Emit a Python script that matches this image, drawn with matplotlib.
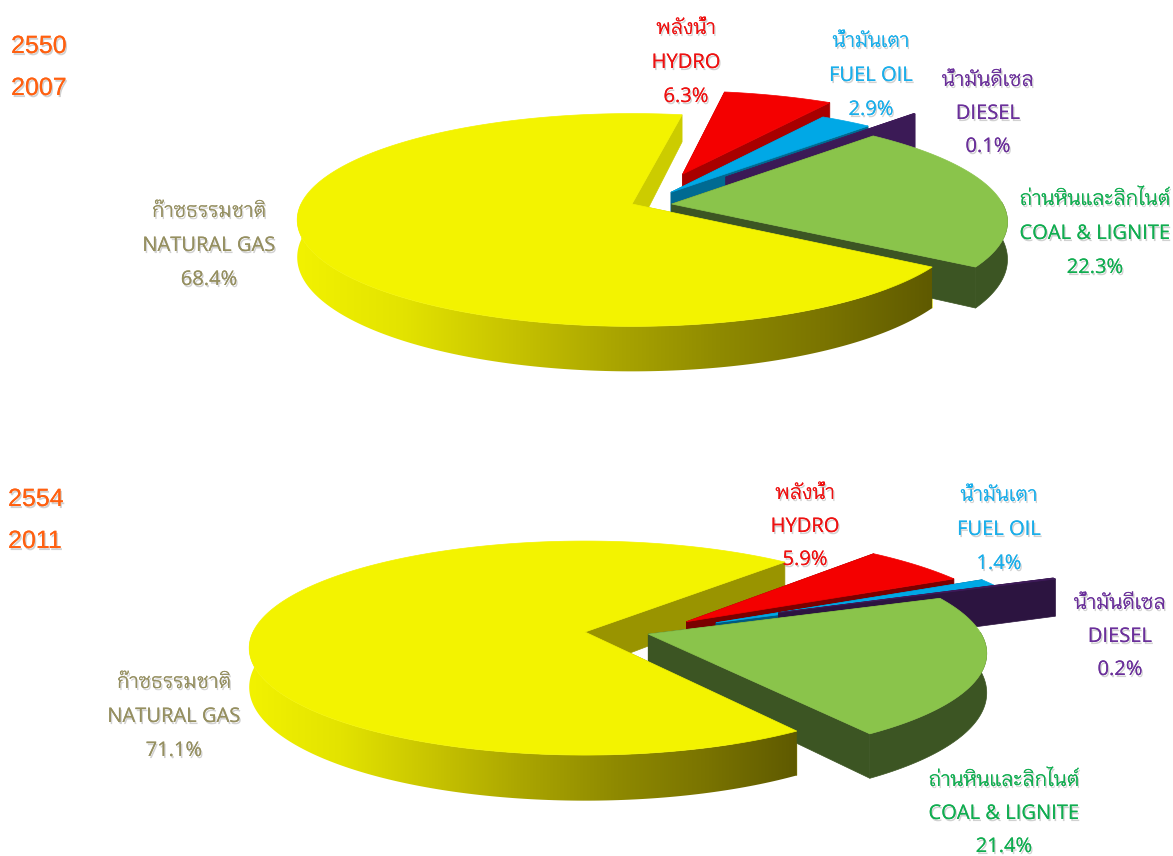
import numpy as np
import matplotlib
matplotlib.use("Agg")
import matplotlib.pyplot as plt
import matplotlib.patheffects as pe
from matplotlib.colors import LinearSegmentedColormap
from matplotlib.patches import Polygon

# fuel share of power generation, same slice order for both years
names_th = ["ก๊าซธรรมชาติ", "ถ่านหินและลิกไนต์", "น้ำมันดีเซล", "น้ำมันเตา", "พลังน้ำ"]
names_en = ["NATURAL GAS", "COAL & LIGNITE", "DIESEL", "FUEL OIL", "HYDRO"]
shares_2007 = [68.4, 22.3, 0.1, 2.9, 6.3]
shares_2011 = [71.1, 21.4, 0.2, 1.4, 5.9]
years_2007 = ["2550", "2007"]
years_2011 = ["2554", "2011"]

top_colors = ["#f3f300", "#8ac44b", "#3f1a5a", "#00a8e6", "#f40000"]
wall_colors = ["#cccc00", "#3c5523", "#3b1a56", "#006a92", "#a80000"]
wall_colors_2 = ["#999400", "#3c5523", "#2c1440", "#005a80", "#7a0000"]
label_colors = ["#958f60", "#10ad50", "#6a2f9a", "#1aaeea", "#ee1111"]
year_color = "#ff6010"
gas_wall = ["#f2f200", "#e3e300", "#c8c400", "#aaa500", "#8f8a00", "#7a7400", "#5f5a00"]

# paint order, back of the pie first; the gas slice wraps around the others
draw_order = [4, 3, 2, 1]

LAYOUT_2007 = {
    "center": (632, 204), "rx": 331, "ry": 104, "persp": 0.15,
    "depth": 36, "depth_k": 0.25, "start": 80,
    "offsets": [(0, 0), (0.12, 0), (0.295, 0.27), (0.12, 0.115), (0.16, 0.30)],
    "depth_scale": [1, 1, 1.25, 1, 1],
    "walls": wall_colors,
    "labels": [(209, 212), (1095, 200), (988, 81), (871, 42), (686, 29)],
    "line_gaps": [34, 34, 33, 34, 34],
    "year_xy": (11, 46), "year_gap": 42,
}
LAYOUT_2011 = {
    "center": (585, 632), "rx": 332, "ry": 104.6, "persp": 0.15,
    "depth": 38, "depth_k": 0.2, "start": 48,
    "offsets": [(0, 0), (0.19, -0.02), (0.60, 0.19), (0.40, 0.09), (0.31, 0.10)],
    "depth_scale": [1, 1, 1.1, 1, 1],
    "walls": wall_colors_2,
    "labels": [(174, 683), (1004, 781), (1120, 604), (999, 496), (805, 494)],
    "line_gaps": [34, 33, 33, 34, 33],
    "year_xy": (8, 499), "year_gap": 42,
}

plt.rcParams["font.family"] = ["Open Sans", "Krub", "DejaVu Sans"]
shadow = [pe.withSimplePatchShadow(offset=(1, -1.5), shadow_rgbFace="black", alpha=0.18), pe.Normal()]


def project(lay, x, y):
    s = 1 / (1 + lay["persp"] * y)
    cx, cy = lay["center"]
    return cx + lay["rx"] * x * s, cy - lay["ry"] * y * s


def side(lay, x, y, scale=1):
    # outline of a wall hanging below a run of points on the top face
    px, py = project(lay, x, y)
    low = py + scale * lay["depth"] * (1 - lay["depth_k"] * y)
    return np.column_stack([np.r_[px, px[::-1]], np.r_[py, low[::-1]]])


def slice_rim(lay, starts, sweeps, i):
    ox, oy = lay["offsets"][i]
    t = np.radians(np.linspace(starts[i], starts[i] + sweeps[i], 300))
    return ox, oy, t, ox + np.cos(t), oy + np.sin(t)


def draw_cuts(ax, lay, starts, sweeps, i, z):
    # cut faces running in from the rim to the apex
    ox, oy, t, rim_x, rim_y = slice_rim(lay, starts, sweeps, i)
    for end in (0, -1):
        outline = side(lay, np.array([ox, rim_x[end]]), np.array([oy, rim_y[end]]), lay["depth_scale"][i])
        ax.add_patch(Polygon(outline, color=lay["walls"][i], lw=0.5, zorder=z))


def draw_body(ax, lay, starts, sweeps, i, z):
    ox, oy, t, rim_x, rim_y = slice_rim(lay, starts, sweeps, i)

    # outer wall, only where it faces the front
    front = np.sin(t) <= 0.02
    if front.sum() > 1:
        wall = side(lay, rim_x[front], rim_y[front], lay["depth_scale"][i])
        if i == 0:
            clip = Polygon(wall, fc="none", ec="none", zorder=z)
            ax.add_patch(clip)
            cmap = LinearSegmentedColormap.from_list("gas", gas_wall)
            im = ax.imshow(np.linspace(0, 1, 256)[None, :], cmap=cmap, aspect="auto",
                           extent=(wall[:, 0].min(), wall[:, 0].max(), 856, 0), zorder=z)
            im.set_clip_path(clip)
        else:
            ax.add_patch(Polygon(wall, color=lay["walls"][i], lw=0.5, zorder=z))

    px, py = project(lay, np.r_[ox, rim_x], np.r_[oy, rim_y])
    ax.add_patch(Polygon(np.column_stack([px, py]), color=top_colors[i], lw=0.5, zorder=z + 1))


def draw_pie(ax, shares, lay):
    sweeps = np.array(shares) * 3.6
    starts = lay["start"] + np.r_[0, np.cumsum(sweeps)[:-1]]

    # the notch in the gas slice sits behind the small slices, its top face in front
    draw_cuts(ax, lay, starts, sweeps, 0, 2)
    z = 3
    for i in draw_order:
        draw_cuts(ax, lay, starts, sweeps, i, z)
        draw_body(ax, lay, starts, sweeps, i, z + 1)
        z += 3
    draw_body(ax, lay, starts, sweeps, 0, z)

    for i, (x, y) in enumerate(lay["labels"]):
        lines = [names_th[i], names_en[i], f"{shares[i]}%"]
        for n, line in enumerate(lines):
            ax.text(x, y + n * lay["line_gaps"][i], line, color=label_colors[i], fontsize=14.5,
                    ha="center", va="center", zorder=50, path_effects=shadow)


def main():
    fig = plt.figure(figsize=(11.73, 8.56), dpi=100)
    ax = fig.add_axes([0, 0, 1, 1])

    draw_pie(ax, shares_2007, LAYOUT_2007)
    draw_pie(ax, shares_2011, LAYOUT_2011)

    for lay, years in ((LAYOUT_2007, years_2007), (LAYOUT_2011, years_2011)):
        x, y = lay["year_xy"]
        for n, year in enumerate(years):
            ax.text(x, y + n * lay["year_gap"], year, color=year_color, fontsize=18,
                    family="Liberation Sans", ha="left", va="center", zorder=50, path_effects=shadow)

    ax.set_xlim(0, 1173)
    ax.set_ylim(856, 0)
    ax.axis("off")
    fig.savefig("out.png", dpi=100, facecolor="white")


if __name__ == "__main__":
    main()
